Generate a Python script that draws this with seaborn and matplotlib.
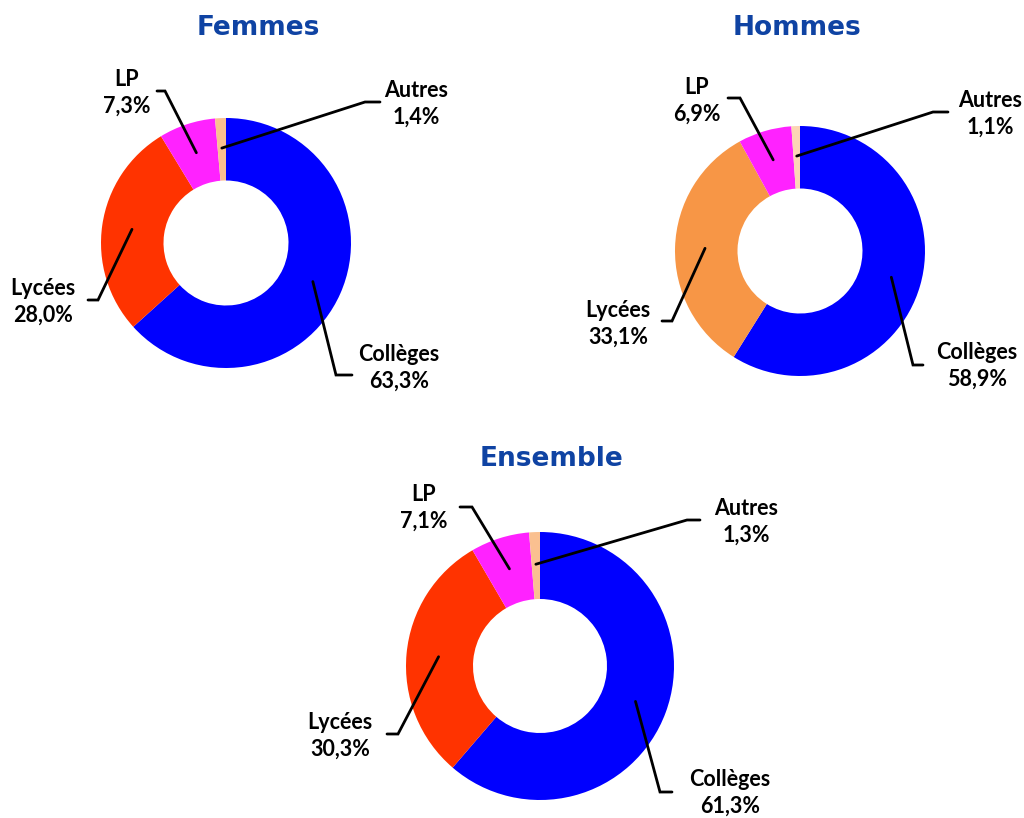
""" Donut charts: répartition par type d'établissement (Femmes / Hommes / Ensemble) """

import matplotlib.pyplot as plt
import numpy as np
import seaborn as sns


# Data

categories = ["Collèges", "Lycées", "LP", "Autres"]
femmes = [63.3, 28.0, 7.3, 1.4]
hommes = [58.9, 33.1, 6.9, 1.1]
ensemble = [61.3, 30.3, 7.1, 1.3]
titles = ["Femmes", "Hommes", "Ensemble"]

colors_f = ["#0000FF", "#FF3300", "#FF22FF", "#FAC090"]
colors_h = ["#0000FF", "#F79646", "#FF22FF", "#FCD5B5"]
colors_e = ["#0000FF", "#FF3300", "#FF22FF", "#FAC090"]


# Layout (pixel coordinates, y measured from the top)

W, H = 1024, 818
charts = [
    # center, radius, title position, per-category (label pos, elbow, line end)
    dict(center=(226, 243), radius=125, title=(258, 28), colors=colors_f,
         labels=[((399, 368), (336, 375), (352, 375)),
                 ((43, 302), (98, 300), (88, 300)),
                 ((127, 93), (165, 91), (157, 91)),
                 ((416, 104), (365, 102), (380, 102))]),
    dict(center=(800, 251), radius=125, title=(797, 28), colors=colors_h,
         labels=[((977, 366), (913, 365), (923, 365)),
                 ((618, 324), (672, 321), (662, 321)),
                 ((697, 101), (740, 98), (728, 98)),
                 ((990, 114), (933, 112), (948, 112))]),
    dict(center=(540, 666), radius=134, title=(551, 459), colors=colors_e,
         labels=[((730, 793), (660, 792), (672, 792)),
                 ((340, 736), (398, 734), (387, 734)),
                 ((424, 508), (472, 507), (460, 507)),
                 ((746, 522), (687, 520), (700, 520))]),
]


def px(x, y):
    """ pixel (top-left origin) -> data coordinates """
    return x, H - y


sns.set_style("white")
fig = plt.figure(figsize=(W / 100, H / 100), dpi=100)
ax = fig.add_axes([0, 0, 1, 1])

label_font = dict(family="Lato", weight="bold", size=15.5, color="black")

for chart, title, values in zip(charts, titles, [femmes, hommes, ensemble]):
    cx, cy = px(*chart["center"])
    r = chart["radius"]
    wedges, _ = ax.pie(values, colors=chart["colors"], startangle=90, counterclock=False,
                       center=(cx, cy), radius=r, frame=True,
                       wedgeprops=dict(width=r * 0.5, edgecolor="none"))

    tx, ty = px(*chart["title"])
    ax.text(tx, ty, title, ha="center", va="center", family="DejaVu Sans",
            weight="bold", size=19, color="#0F43A3")

    # leader lines from the middle of each ring segment to its label
    for wedge, cat, v, (lab, elbow, end) in zip(wedges, categories, values, chart["labels"]):
        mid = np.deg2rad((wedge.theta1 + wedge.theta2) / 2)
        ax_x = cx + 0.76 * r * np.cos(mid)
        ax_y = cy + 0.76 * r * np.sin(mid)
        ex, ey = px(*elbow)
        nx, ny = px(*end)
        ax.plot([ax_x, ex, nx], [ax_y, ey, ny], color="black", lw=2,
                solid_joinstyle="miter")
        lx, ly = px(*lab)
        text = f"{cat}\n{v:.1f}".replace(".", ",") + "%"
        ax.text(lx, ly, text, ha="center", va="center", linespacing=1.35, **label_font)

ax.set_xlim(0, W)
ax.set_ylim(0, H)
ax.set_aspect("equal")
ax.axis("off")

fig.savefig("out.png", dpi=100)
